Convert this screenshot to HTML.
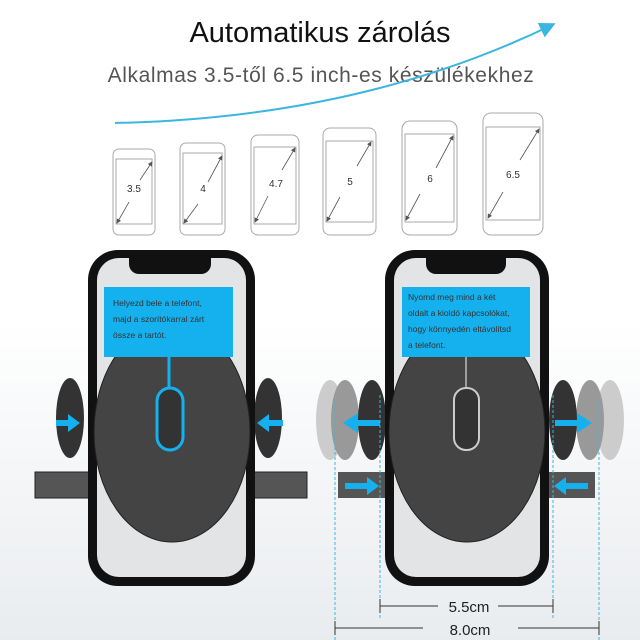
<!DOCTYPE html>
<html><head><meta charset="utf-8"><style>
html,body{margin:0;padding:0;background:#fff}
svg{display:block}
text{font-family:"Liberation Sans",sans-serif}
</style></head><body>
<svg width="640" height="640" viewBox="0 0 640 640" xmlns="http://www.w3.org/2000/svg">
<defs>
<linearGradient id="bg" x1="0" y1="0" x2="0" y2="1"><stop offset="0.5" stop-color="#ffffff"/><stop offset="1" stop-color="#e9ecef"/></linearGradient>
<marker id="ah" markerWidth="6" markerHeight="6" refX="5" refY="3" orient="auto-start-reverse"><path d="M0,0 L6,3 L0,6 z" fill="#555"/></marker>
<marker id="bh" markerWidth="8" markerHeight="8" refX="6" refY="4" orient="auto"><path d="M0,0 L8,4 L0,8 z" fill="#3bb6e0"/></marker>
</defs>
<rect width="640" height="640" fill="url(#bg)"/>
<text x="320" y="42" font-size="29" text-anchor="middle" fill="#111">Automatikus zárolás</text>
<text x="321" y="82" font-size="21" letter-spacing="0.6" text-anchor="middle" fill="#555">Alkalmas 3.5-től 6.5 inch-es készülékekhez</text>
<path d="M115,123 Q360,118 552,25" stroke="#3bb6e0" stroke-width="2" fill="none" marker-end="url(#bh)"/>
<g stroke="#aaa" stroke-width="1" fill="#fff">
<rect x="113" y="149" width="42" height="86" rx="6"/><rect x="116" y="159" width="36" height="65" />
<rect x="180" y="143" width="45" height="92" rx="6"/><rect x="183" y="153" width="39" height="71"/>
<rect x="251" y="135" width="48" height="100" rx="7"/><rect x="254" y="147" width="42" height="77"/>
<rect x="323" y="128" width="53" height="107" rx="7"/><rect x="326" y="141" width="47" height="81"/>
<rect x="402" y="121" width="55" height="114" rx="8"/><rect x="405" y="134" width="49" height="88"/>
<rect x="483" y="113" width="60" height="122" rx="8"/><rect x="486" y="127" width="54" height="93"/>
</g>
<g stroke="#555" stroke-width="0.8">
<line x1="129" y1="202" x2="117" y2="223" marker-end="url(#ah)"/><line x1="140" y1="180" x2="152" y2="162" marker-end="url(#ah)"/>
<line x1="198" y1="204" x2="184" y2="223" marker-end="url(#ah)"/><line x1="208" y1="182" x2="222" y2="156" marker-end="url(#ah)"/>
<line x1="268" y1="196" x2="255" y2="222" marker-end="url(#ah)"/><line x1="282" y1="170" x2="295" y2="148" marker-end="url(#ah)"/>
<line x1="340" y1="197" x2="327" y2="221" marker-end="url(#ah)"/><line x1="357" y1="166" x2="371" y2="142" marker-end="url(#ah)"/>
<line x1="420" y1="194" x2="406" y2="220" marker-end="url(#ah)"/><line x1="436" y1="168" x2="453" y2="136" marker-end="url(#ah)"/>
<line x1="503" y1="192" x2="488" y2="218" marker-end="url(#ah)"/><line x1="520" y1="160" x2="539" y2="129" marker-end="url(#ah)"/>
</g>
<g font-size="10" fill="#333" text-anchor="middle">
<text x="134" y="192">3.5</text><text x="203" y="192">4</text><text x="276" y="187">4.7</text>
<text x="350" y="185">5</text><text x="430" y="182">6</text><text x="513" y="178">6.5</text>
</g>
<!-- LEFT -->
<g>
<rect x="35" y="472" width="62" height="26" fill="#555" stroke="#222"/>
<rect x="245" y="472" width="62" height="26" fill="#555" stroke="#222"/>
<ellipse cx="70" cy="418" rx="14" ry="40" fill="#333"/>
<ellipse cx="268" cy="418" rx="14" ry="40" fill="#333"/>
<rect x="88" y="250" width="167" height="336" rx="30" fill="#111"/>
<rect x="97" y="258" width="149" height="319" rx="22" fill="#e3e4e6"/>
<path d="M129,258 h82 v6 a10,10 0 0 1 -10,10 h-62 a10,10 0 0 1 -10,-10z" fill="#111"/>
<ellipse cx="172" cy="432" rx="78" ry="110" fill="#444" stroke="#222"/>
<rect x="104" y="287" width="129" height="70" fill="#14b1ee"/>
<line x1="169" y1="357" x2="169" y2="388" stroke="#14b1ee" stroke-width="3"/>
<rect x="157" y="388" width="26" height="62" rx="13" fill="#333" stroke="#14b1ee" stroke-width="3"/>
<g font-size="8.5" fill="#333"><text x="113" y="306">Helyezd bele a telefont,</text><text x="113" y="322">majd a szorítókarral zárt</text><text x="113" y="338">össze a tartót.</text></g>
<path d="M56,420 h12 v-6 l12,9 -12,9 v-6 h-12z" fill="#14b1ee"/>
<path d="M283,420 h-14 v-6 l-12,9 12,9 v-6 h14z" fill="#14b1ee"/>
</g>
<!-- RIGHT -->
<g>
<rect x="338" y="472" width="50" height="26" fill="#555"/>
<rect x="545" y="472" width="50" height="26" fill="#555"/>
<ellipse cx="330" cy="420" rx="14" ry="40" fill="#ccc"/>
<ellipse cx="345" cy="420" rx="14" ry="40" fill="#999"/>
<ellipse cx="372" cy="420" rx="14" ry="40" fill="#333"/>
<ellipse cx="610" cy="420" rx="14" ry="40" fill="#ccc"/>
<ellipse cx="590" cy="420" rx="14" ry="40" fill="#999"/>
<ellipse cx="563" cy="420" rx="14" ry="40" fill="#333"/>
<rect x="385" y="250" width="164" height="336" rx="30" fill="#111"/>
<rect x="394" y="258" width="146" height="319" rx="22" fill="#e3e4e6"/>
<path d="M426,258 h80 v6 a10,10 0 0 1 -10,10 h-60 a10,10 0 0 1 -10,-10z" fill="#111"/>
<ellipse cx="467" cy="432" rx="78" ry="110" fill="#444" stroke="#222"/>
<rect x="402" y="287" width="128" height="70" fill="#14b1ee"/>
<line x1="466" y1="357" x2="466" y2="388" stroke="#bbb" stroke-width="1.5"/>
<rect x="454" y="388" width="25" height="62" rx="12" fill="#333" stroke="#ccc" stroke-width="2"/>
<g font-size="8.5" fill="#333"><text x="408" y="300">Nyomd meg mind a két</text><text x="408" y="316">oldalt a kioldó kapcsolókat,</text><text x="408" y="332">hogy könnyedén eltávolítsd</text><text x="408" y="348">a telefont.</text></g>
<path d="M380,420 h-22 v-7 l-15,10 15,10 v-7 h22z" fill="#14b1ee"/>
<path d="M555,420 h22 v-7 l15,10 -15,10 v-7 h-22z" fill="#14b1ee"/>
<path d="M345,483 h22 v-6 l12,9 -12,9 v-6 h-22z" fill="#14b1ee"/>
<path d="M588,483 h-22 v-6 l-12,9 12,9 v-6 h22z" fill="#14b1ee"/>
<g stroke="#3bb6e0" stroke-width="1" stroke-dasharray="3,2">
<line x1="380" y1="395" x2="380" y2="620"/><line x1="553" y1="395" x2="553" y2="620"/>
<line x1="335" y1="402" x2="335" y2="640"/><line x1="599" y1="402" x2="599" y2="640"/>
</g>
<g stroke="#333" stroke-width="1">
<line x1="380" y1="606" x2="438" y2="606"/><line x1="498" y1="606" x2="553" y2="606"/>
<line x1="380" y1="599" x2="380" y2="613"/><line x1="553" y1="599" x2="553" y2="613"/>
<line x1="335" y1="628" x2="423" y2="628"/><line x1="518" y1="628" x2="599" y2="628"/>
<line x1="335" y1="621" x2="335" y2="635"/><line x1="599" y1="621" x2="599" y2="635"/>
</g>
<text x="469" y="612" font-size="15" text-anchor="middle" fill="#222">5.5cm</text>
<text x="470" y="635" font-size="15" text-anchor="middle" fill="#222">8.0cm</text>
</g>
</svg>
</body></html>
